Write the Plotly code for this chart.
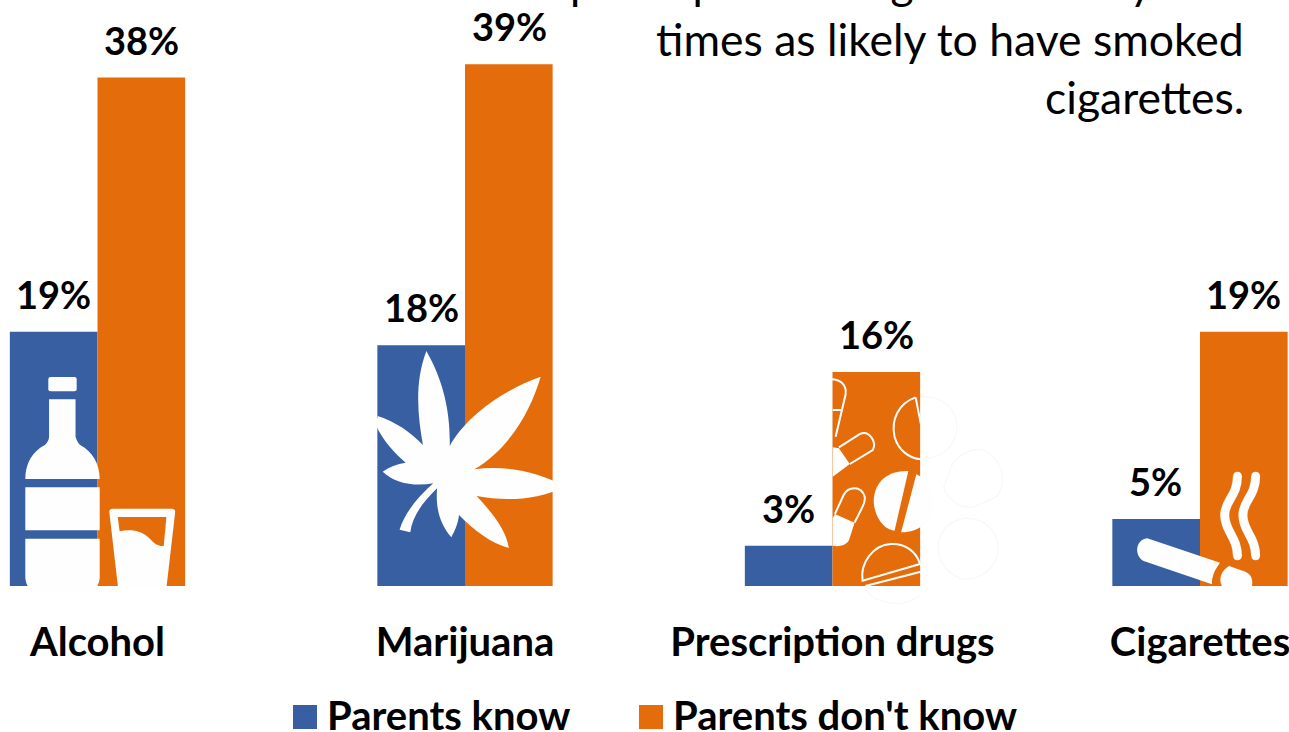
import re
import plotly.graph_objects as go

# Survey results, percent of teens
categories = ["Alcohol", "Marijuana", "Prescription drugs", "Cigarettes"]
parents_know = [19, 18, 3, 5]
parents_dont_know = [38, 39, 16, 19]
series_names = ["Parents know", "Parents don't know"]
headline = ["participants using were nearly four",
            "times as likely to have smoked",
            "cigarettes."]

BLUE = "#385FA2"
ORANGE = "#E46C0A"
ICON = "#FEFEFE"
FONT = "Lato"
W, H = 1289, 732
BASE = 586  # pixel row of the bars' baseline


def paper(px, py):
    return px / W, (BASE - py) / BASE


def sketch(path, ox, oy, sx, sy):
    """Turn an icon outline drawn on a local grid into paper coordinates."""
    def conv(m):
        x, y = paper(ox + float(m.group(1)) / sx, oy + float(m.group(2)) / sy)
        return f"{x:.5f},{y:.5f}"
    return re.sub(r"(-?\d+\.?\d*),(-?\d+\.?\d*)", conv, path)


def left_icon(path):
    return sketch(path, 0, 320, 2.608, 3)


def right_icon(path):
    return sketch(path, 720, 340, 2.75, 3)


def filled(path, color=ICON):
    return dict(type="path", path=path, fillcolor=color, line=dict(width=0),
                xref="paper", yref="paper", layer="above")


def stroked(path, width=2, color=ICON):
    return dict(type="path", path=path, fillcolor="rgba(0,0,0,0)",
                line=dict(color=color, width=width),
                xref="paper", yref="paper", layer="above")


shapes = []

# Bottle and glass
for p in [
    "M132,171 L194,171 Q200,171 200,177 L200,208 Q200,214 194,214 L132,214 Q126,214 126,208 L126,177 Q126,171 132,171 Z",
    "M128,238 L197,238 L197,350 C200,362 205,372 210,376 C240,395 260,430 260,477 L66,477 C66,430 85,395 116,376 C122,370 128,360 128,350 Z",
    "M66,502 L260,502 L260,631 L66,631 Z",
    "M66,656 L260,656 L260,770 C260,790 250,812 235,812 L90,812 C75,812 66,790 66,770 Z",
    "M285,575 Q285,566 295,566 L447,566 Q457,566 457,575 L434,804 L308,804 Z",
]:
    shapes.append(filled(left_icon(p)))
shapes.append(filled(left_icon(
    "M307,591 L434,591 L427,678 C405,678 400,665 385,650 C365,630 335,628 312,634 Z"), ORANGE))

# Cannabis leaf
shapes.append(filled(left_icon(
    "M1112,93 C1150,170 1175,260 1173,378 C1210,300 1300,215 1410,170 C1385,270 1330,385 1237,448 "
    "C1320,435 1400,455 1475,500 C1400,540 1320,545 1243,528 C1285,580 1320,630 1327,684 "
    "C1280,670 1235,630 1197,585 C1195,610 1187,630 1177,652 C1150,615 1135,570 1140,505 "
    "C1100,550 1075,590 1070,637 L1042,629 C1055,580 1090,530 1130,490 C1080,500 1030,490 998,455 "
    "C1015,440 1035,432 1058,428 C1030,400 1000,365 980,315 L985,288 C1030,305 1070,335 1103,375 "
    "C1090,290 1080,190 1112,93 Z")))

# Pills: outlined halves and solid halves
for p in [
    "M300,118 C330,115 350,135 345,165 L318,290",
    "M310,210 L335,210",
    "M327,322 L385,282 C410,270 432,305 420,330 L357,372",
    "M538,172 C490,190 470,240 480,290 C490,330 520,355 552,358",
    "M538,172 L552,250",
    "M316,522 L340,465 C352,440 388,435 398,470 C400,485 395,495 390,505 L370,548",
    "M392,722 C385,670 420,615 470,612 C510,610 540,635 550,672 Z",
    "M400,738 L552,695",
]:
    shapes.append(stroked(right_icon(p)))
for p in [
    "M310,322 L327,325 L357,372 L310,410 Z",
    "M518,393 C450,390 420,440 423,490 C428,540 455,570 480,572 Z",
    "M540,403 C575,420 592,460 590,490 C588,540 550,578 498,577 Z",
    "M316,522 L370,548 L355,600 C345,620 320,620 310,617 L310,535 Z",
]:
    shapes.append(filled(right_icon(p)))

# Barely visible pill edges spilling past the bar on the white page
for p in [
    "M552,170 C620,165 660,220 650,280 C640,330 600,355 552,358",
    "M735,335 C780,370 790,430 760,470 L700,500 C660,510 620,470 615,440 L640,370 C670,330 710,320 735,335",
    "M680,535 C740,535 770,590 765,640 C750,700 700,725 660,715 C610,690 590,640 605,590 C620,555 650,535 680,535",
    "M400,745 C420,790 500,810 552,765",
]:
    shapes.append(stroked(right_icon(p), 1.2, "#F8F8F8"))

# Cigarette with two smoke trails
for p in [
    "M1175,595 L1375,668 C1360,690 1352,710 1353,733 L1165,663 C1140,650 1140,600 1175,595 Z",
    "M1400,678 L1445,695 C1465,705 1465,725 1463,738 L1463,750 C1440,762 1400,760 1380,738 C1370,715 1380,690 1400,678 Z",
]:
    shapes.append(filled(right_icon(p)))
for dx in (0, 50):
    shapes.append(stroked(right_icon(
        f"M{1423 + dx},408 C{1423 + dx},470 {1388 + dx},480 {1388 + dx},525 "
        f"C{1388 + dx},575 {1423 + dx},590 {1423 + dx},648"), 9))
    for cy in (408, 648):
        cx = 1423 + dx
        shapes.append(filled(right_icon(
            f"M{cx - 12},{cy} C{cx - 12},{cy - 17} {cx + 12},{cy - 17} {cx + 12},{cy} "
            f"C{cx + 12},{cy + 17} {cx - 12},{cy + 17} {cx - 12},{cy} Z")))

# Legend keys
for x0, color in [(293, BLUE), (639, ORANGE)]:
    x_a, y_a = paper(x0, 705)
    x_b, y_b = paper(x0 + 24, 729)
    shapes.append(dict(type="rect", xref="paper", yref="paper", x0=x_a, x1=x_b,
                       y0=y_b, y1=y_a, fillcolor=color, line=dict(width=0)))

fig = go.Figure()
fig.add_bar(x=categories, y=parents_know, name=series_names[0], marker=dict(color=BLUE, line=dict(width=0)))
fig.add_bar(x=categories, y=parents_dont_know, name=series_names[1], marker=dict(color=ORANGE, line=dict(width=0)))

annotations = []

# Value labels sit above each bar, nudged to the centre of its half of the group
for vals, shift in [(parents_know, -44), (parents_dont_know, 44)]:
    for cat, v in zip(categories, vals):
        annotations.append(dict(x=cat, y=v, xref="x", yref="y", text=f"<b>{v}%</b>",
                                showarrow=False, xshift=shift, yshift=38, yanchor="middle",
                                font=dict(family=FONT, size=38, color="black")))

# Legend text
for x0, label in [(325, series_names[0]), (671, series_names[1])]:
    x_a, y_a = paper(x0, 715)
    annotations.append(dict(x=x_a, y=y_a, xref="paper", yref="paper", text=f"<b>{label}</b>",
                            showarrow=False, xanchor="left", yanchor="middle",
                            font=dict(family=FONT, size=40, color="black")))

# Headline, right aligned, running off the top of the page
for line, cy in zip(headline, (-18, 39, 96)):
    x_a, y_a = paper(1246, cy)
    annotations.append(dict(x=x_a, y=y_a, xref="paper", yref="paper", text=line,
                            showarrow=False, xanchor="right", yanchor="middle",
                            font=dict(family=FONT, size=44.5, color="black")))

fig.update_layout(
    width=W, height=H,
    margin=dict(l=0, r=0, t=0, b=H - BASE, pad=0),
    barmode="group", bargap=0.523, bargroupgap=0,
    plot_bgcolor="white", paper_bgcolor="white",
    showlegend=False,
    shapes=shapes,
    annotations=annotations,
    xaxis=dict(range=[-0.2653, 3.2422], showgrid=False, zeroline=False, showline=False,
               ticks="outside", ticklen=21, tickcolor="rgba(0,0,0,0)",
               tickfont=dict(family=FONT, size=40, color="black"),
               tickvals=categories, ticktext=[f"<b>{c}</b>" for c in categories]),
    yaxis=dict(range=[0, BASE / 13.38], visible=False, showgrid=False, zeroline=False),
)

fig.write_html("out.html")
